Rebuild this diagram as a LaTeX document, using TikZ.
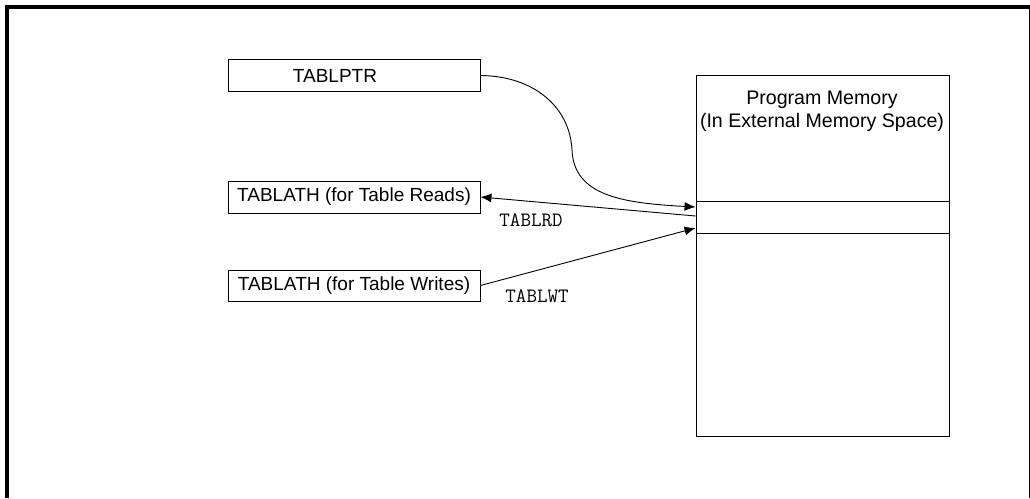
\documentclass[tikz,border=0pt]{standalone}
\usepackage{fontspec}
\setmainfont{Liberation Sans}
\usetikzlibrary{arrows.meta,positioning}

\begin{document}
\begin{tikzpicture}[x=1pt,y=-1pt,
  reg/.style={draw,line width=0.9pt,minimum width=252pt,minimum height=31pt,inner sep=0pt,font=\fontsize{19}{23}\selectfont},
  busname/.style={font=\ttfamily\fontsize{20.4}{22}\selectfont},
  link/.style={line width=0.9pt,-{Latex[length=11pt,width=9pt]}}]
\useasboundingbox (0,0) rectangle (1030,498);
% frame
\draw[line width=4pt] (7,498) -- (7,6.5) -- (1030,6.5);
\draw[line width=1pt] (1029,6.5) -- (1029,498);
% registers
\node[reg,minimum height=32pt] (ptr) at (354,75.5) {};
\node[font=\fontsize{19}{23}\selectfont] (ptrtext) at (335,76) {TABLPTR};
\node[reg,minimum height=32pt] (reads) at (354,197) {TABLATH (for Table Reads)};
\node[reg] (writes) at (354,285.5) {TABLATH (for Table Writes)};
% program memory
\node[reg,minimum width=253pt,minimum height=361pt] (mem) at (822.5,255.5) {};
\node[reg,minimum width=253pt,minimum height=32pt] (slot) at (822.5,217) {};
\node[align=center,font=\fontsize{19.6}{23}\selectfont] (memtext) at (822,111) {Program Memory\\(In External Memory Space)};
\coordinate (ptrin) at ([yshift=10pt]slot.west);
\coordinate (rdout) at ([yshift=1pt]slot.west);
\coordinate (wtin) at ([yshift=-11pt]slot.west);
\coordinate (bend) at (572,150);
% connections
\draw[link] (ptr.east) .. controls (535,76) and (570,108) .. (bend)
  .. controls (574,195) and (620,203) .. (ptrin);
\draw[link] (rdout) -- (reads.east);
\draw[link] (writes.east) -- (wtin);
\node[busname] (rdlabel) at (531,220) {TABLRD};
\node[busname] (wtlabel) at (537,296) {TABLWT};
\end{tikzpicture}
\end{document}
